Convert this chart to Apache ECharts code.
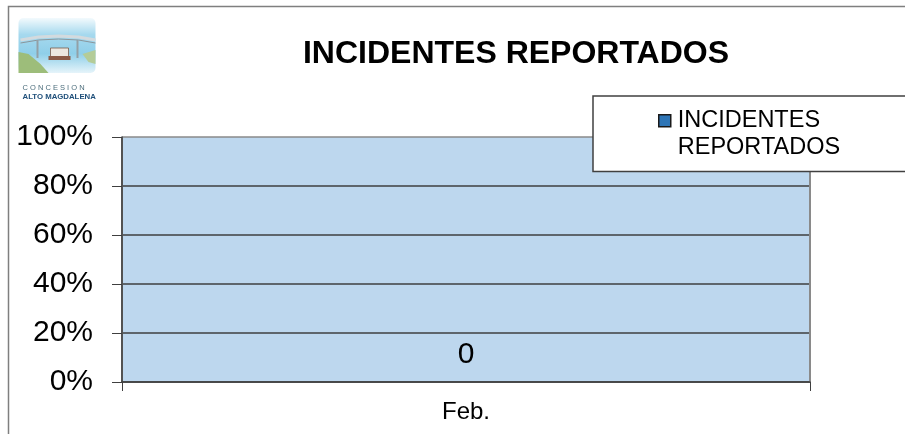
<!DOCTYPE html>
<html>
<head>
<meta charset="utf-8">
<title>INCIDENTES REPORTADOS</title>
<script src="https://cdn.jsdelivr.net/npm/echarts@6/dist/echarts.min.js"></script>
<style>
  html, body { margin: 0; padding: 0; background: #ffffff; }
  #chart { width: 905px; height: 434px; }
</style>
</head>
<body>
<div id="chart"></div>
<script>
// Chart data
const categories = ['Feb.'];
const seriesName = 'INCIDENTES REPORTADOS';
const incidentValues = [0];
const axisMin = 0;
const axisMax = 1;
const axisStep = 0.2;

const FONT = '"Liberation Sans", Arial, sans-serif';
const GRID_DARK = '#3f3f3f';
const GRID_LIGHT = '#8a8a8a';

const chart = echarts.init(document.getElementById('chart'), null, { renderer: 'canvas' });

// Small illustrated logo in the top-left corner
const logo = {
  type: 'group',
  left: 18,
  top: 18,
  silent: true,
  children: [
    { type: 'rect', shape: { x: 0, y: 0, width: 77, height: 55, r: 5 },
      style: { fill: new echarts.graphic.LinearGradient(0, 0, 0, 1, [
        { offset: 0, color: '#f3fafd' },
        { offset: 0.3, color: '#a6d9ee' },
        { offset: 0.65, color: '#8fcfe9' },
        { offset: 1, color: '#e6f4fa' }
      ]) } },
    // bridge deck
    { type: 'polyline', shape: { points: [[2, 22], [20, 19], [40, 18], [60, 19], [77, 22]] },
      style: { stroke: '#d3dade', lineWidth: 3, fill: null } },
    { type: 'polyline', shape: { points: [[2, 25], [20, 22], [40, 21], [60, 22], [77, 25]] },
      style: { stroke: '#8a969c', lineWidth: 1, fill: null } },
    // piers
    { type: 'rect', shape: { x: 18, y: 22, width: 2, height: 18 }, style: { fill: '#93a0a6' } },
    { type: 'rect', shape: { x: 58, y: 22, width: 2, height: 18 }, style: { fill: '#93a0a6' } },
    // green banks
    { type: 'polygon', shape: { points: [[0, 34], [10, 36], [22, 46], [30, 55], [0, 55]] },
      style: { fill: '#9dbd7a' } },
    { type: 'polygon', shape: { points: [[64, 36], [77, 32], [77, 46], [70, 44]] },
      style: { fill: '#b4cc98' } },
    // boat
    { type: 'rect', shape: { x: 32, y: 30, width: 18, height: 9 }, style: { fill: '#ece7df', stroke: '#7a5a4a', lineWidth: 0.8 } },
    { type: 'rect', shape: { x: 30, y: 38, width: 22, height: 4 }, style: { fill: '#8a5a46' } },
    { type: 'text', style: { x: 4, y: 66, text: 'C O N C E S I O N', font: '7.5px ' + FONT, fill: '#4d6e7c' } },
    { type: 'text', style: { x: 4, y: 75, text: 'ALTO MAGDALENA', font: 'bold 7.8px ' + FONT, fill: '#1f4f7a' } }
  ]
};

const option = {
  animation: false,
  backgroundColor: '#ffffff',
  textStyle: { fontFamily: FONT },
  title: {
    text: 'INCIDENTES REPORTADOS',
    left: 511,
    top: 33,
    textAlign: 'center',
    textStyle: { fontFamily: FONT, fontSize: 32, fontWeight: 'bold', color: '#000000' }
  },
  legend: {
    data: [seriesName],
    left: 593,
    top: 96,
    orient: 'vertical',
    padding: [10.5, 90, 9.5, 65],
    backgroundColor: '#ffffff',
    borderColor: '#404040',
    borderWidth: 1.5,
    itemWidth: 12,
    itemHeight: 54,
    icon: 'path://M0,7.5H12V19.5H0Z M0,0L0,0 M12,54L12,54',
    itemStyle: { color: '#2e75b6', borderColor: '#1a1a1a', borderWidth: 1.5 },
    formatter: name => name.replace(' ', '\n'),
    textStyle: { fontFamily: FONT, fontSize: 23.5, lineHeight: 27, color: '#000000', padding: [0, 0, 0, 2] }
  },
  grid: {
    left: 122,
    right: 95,
    top: 137,
    bottom: 52,
    show: true,
    backgroundColor: '#bdd7ee',
    borderWidth: 0
  },
  xAxis: {
    type: 'category',
    data: categories,
    axisLine: { show: true, lineStyle: { color: GRID_DARK, width: 1.5 } },
    axisTick: { show: true, length: 9, lineStyle: { color: GRID_DARK, width: 1 } },
    axisLabel: { margin: 18, fontFamily: FONT, fontSize: 24, color: '#000000' },
    splitLine: { show: true, lineStyle: { color: GRID_LIGHT, width: 2 } }
  },
  yAxis: {
    type: 'value',
    min: axisMin,
    max: axisMax,
    interval: axisStep,
    axisLine: { show: true, lineStyle: { color: GRID_DARK, width: 1.5 } },
    axisTick: { show: true, length: 10, lineStyle: { color: GRID_DARK, width: 1 } },
    axisLabel: {
      margin: 29,
      fontFamily: FONT,
      fontSize: 30,
      color: '#000000',
      formatter: v => Math.round(v * 100) + '%'
    },
    splitLine: {
      show: true,
      lineStyle: { color: [GRID_DARK, GRID_DARK, GRID_DARK, GRID_DARK, GRID_DARK, GRID_LIGHT], width: 1.5 }
    }
  },
  series: [{
    name: seriesName,
    type: 'bar',
    data: incidentValues,
    barWidth: '60%',
    itemStyle: { color: '#2e75b6' },
    label: {
      show: true,
      position: 'top',
      distance: 12,
      fontFamily: FONT,
      fontSize: 30,
      color: '#000000'
    }
  }],
  graphic: [
    { type: 'rect', silent: true, z: 100,
      shape: { x: 8.5, y: 6.5, width: 920, height: 450 },
      style: { fill: null, stroke: '#7f7f7f', lineWidth: 1.5 } },
    logo
  ]
};

chart.setOption(option);
</script>
</body>
</html>
